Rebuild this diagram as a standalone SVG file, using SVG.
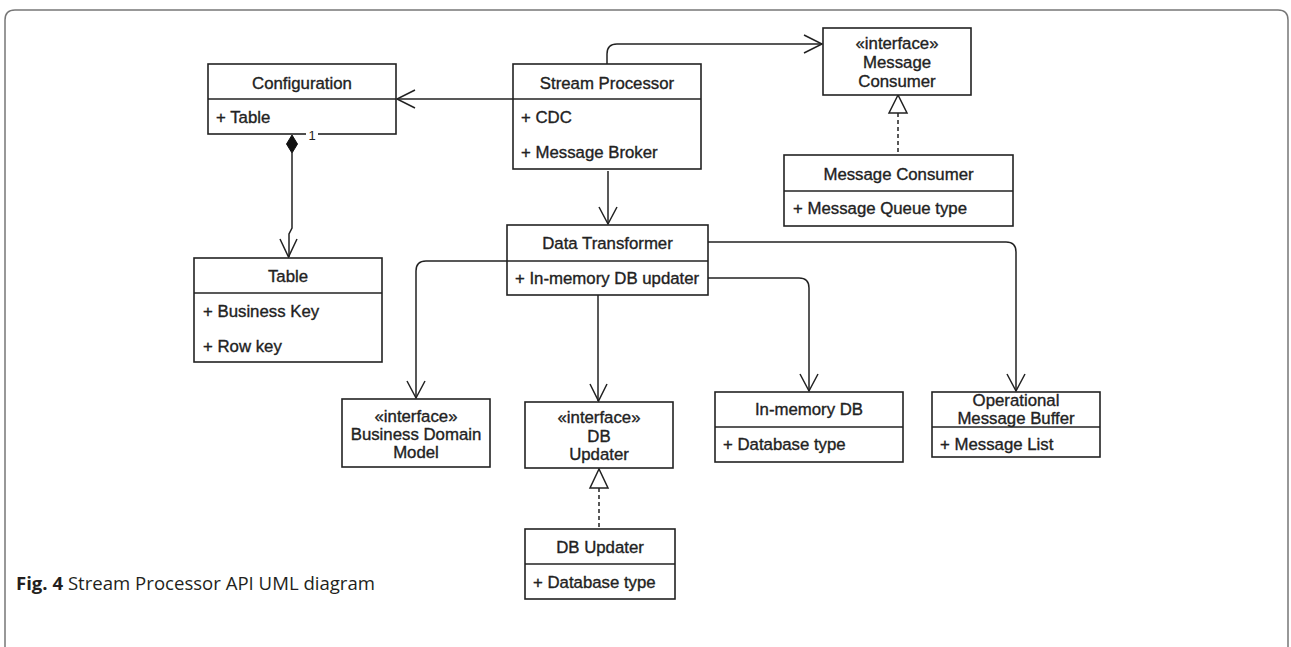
<svg xmlns="http://www.w3.org/2000/svg" width="1291" height="647" viewBox="0 0 1291 647">
<style>
.box{fill:#fff;stroke:#222;stroke-width:1.6}
.div{stroke:#222;stroke-width:1.6}
.t{font-family:"Liberation Sans",Arial,sans-serif;font-size:16.8px;fill:#222;stroke:#222;stroke-width:0.35}
.c{text-anchor:middle}
.ln{fill:none;stroke:#222;stroke-width:1.5}
.dash{fill:none;stroke:#222;stroke-width:1.5;stroke-dasharray:4 3}
.tri{fill:#fff;stroke:#222;stroke-width:1.5}
.cap{font-family:"Open Sans","Liberation Sans",sans-serif;font-size:18px;fill:#231f20}
</style>
<rect width="1291" height="647" fill="#fff"/>
<path d="M5,647 V20 Q5,10 15,10 H1278 Q1288,10 1288,20 V647" fill="none" stroke="#777" stroke-width="1.5"/>

<g id="connectors">
  <path class="ln" d="M513,99 H397"/>
  <path class="ln" d="M415,90 L397,99 L415,108"/>
  <path class="ln" d="M607,64 V54 Q607,44 617,44 H822"/>
  <path class="ln" d="M804,35 L822,44 L804,53"/>
  <path class="ln" d="M608,171 V224"/>
  <path class="ln" d="M599,207 L608,224 L617,207"/>
  <path class="ln" d="M292,153 V228 L289,234 V257"/>
  <path class="ln" d="M280,239 L288.5,257 L297,239"/>
  <path class="ln" d="M507,261 H426 Q416,261 416,271 V398"/>
  <path class="ln" d="M407,381 L416,398 L425,381"/>
  <path class="ln" d="M598,295 V401"/>
  <path class="ln" d="M590,384 L598.5,401 L607,384"/>
  <path class="ln" d="M708,278 H799 Q809,278 809,288 V391"/>
  <path class="ln" d="M800,374 L809,391 L818,374"/>
  <path class="ln" d="M708,242 H1006 Q1016,242 1016,252 V391"/>
  <path class="ln" d="M1007,374 L1016,391 L1025,374"/>
  <path class="dash" d="M898,113 V155"/>
  <path class="tri" d="M898,95 L889,113 L907,113 Z"/>
  <path class="dash" d="M599,488 V529"/>
  <path class="tri" d="M599,469 L590,488 L608,488 Z"/>
</g>

<g id="configuration">
  <rect class="box" x="208" y="64" width="188" height="70"/>
  <line class="div" x1="208" y1="99" x2="396" y2="99"/>
  <text class="t c" x="302" y="89">Configuration</text>
  <text class="t" x="216" y="123">+ Table</text>
  <path d="M292,135 L297.5,144 L292,153 L286.5,144 Z" fill="#111" stroke="#111" stroke-width="1"/>
  <rect x="306" y="128" width="12" height="13" fill="#fff"/>
  <text x="312" y="140" text-anchor="middle" font-family="Liberation Sans, Arial, sans-serif" font-size="13" fill="#222">1</text>
</g>

<g id="stream-processor">
  <rect class="box" x="513" y="64" width="188" height="105"/>
  <line class="div" x1="513" y1="99" x2="701" y2="99"/>
  <text class="t c" x="607" y="89">Stream Processor</text>
  <text class="t" x="521" y="123">+ CDC</text>
  <text class="t" x="521" y="158">+ Message Broker</text>
</g>

<g id="imessage-consumer">
  <rect class="box" x="823" y="28" width="148" height="67"/>
  <text class="t c" x="897" y="49">«interface»</text>
  <text class="t c" x="897" y="68">Message</text>
  <text class="t c" x="897" y="87">Consumer</text>
</g>

<g id="message-consumer">
  <rect class="box" x="784" y="155" width="229" height="71"/>
  <line class="div" x1="784" y1="191" x2="1013" y2="191"/>
  <text class="t c" x="898.5" y="180">Message Consumer</text>
  <text class="t" x="793" y="214">+ Message Queue type</text>
</g>

<g id="data-transformer">
  <rect class="box" x="507" y="225" width="201" height="70"/>
  <line class="div" x1="507" y1="261" x2="708" y2="261"/>
  <text class="t c" x="607.5" y="249">Data Transformer</text>
  <text class="t" x="515" y="284">+ In-memory DB updater</text>
</g>

<g id="table">
  <rect class="box" x="194" y="258" width="188" height="104"/>
  <line class="div" x1="194" y1="293" x2="382" y2="293"/>
  <text class="t c" x="288" y="282">Table</text>
  <text class="t" x="203" y="317">+ Business Key</text>
  <text class="t" x="203" y="352">+ Row key</text>
</g>

<g id="business-domain-model">
  <rect class="box" x="342" y="399" width="148" height="68"/>
  <text class="t c" x="416" y="422">«interface»</text>
  <text class="t c" x="416" y="440">Business Domain</text>
  <text class="t c" x="416" y="458">Model</text>
</g>

<g id="idb-updater">
  <rect class="box" x="525" y="402" width="148" height="66"/>
  <text class="t c" x="599" y="423">«interface»</text>
  <text class="t c" x="599" y="442">DB</text>
  <text class="t c" x="599" y="460">Updater</text>
</g>

<g id="in-memory-db">
  <rect class="box" x="715" y="392" width="188" height="70"/>
  <line class="div" x1="715" y1="427" x2="903" y2="427"/>
  <text class="t c" x="809" y="415">In-memory DB</text>
  <text class="t" x="723" y="450">+ Database type</text>
</g>

<g id="operational-message-buffer">
  <rect class="box" x="932" y="392" width="168" height="65"/>
  <line class="div" x1="932" y1="427" x2="1100" y2="427"/>
  <text class="t c" x="1016" y="406">Operational</text>
  <text class="t c" x="1016" y="424">Message Buffer</text>
  <text class="t" x="940" y="450">+ Message List</text>
</g>

<g id="db-updater">
  <rect class="box" x="525" y="529" width="150" height="70"/>
  <line class="div" x1="525" y1="564" x2="675" y2="564"/>
  <text class="t c" x="600" y="553">DB Updater</text>
  <text class="t" x="533" y="588">+ Database type</text>
</g>

<g id="caption">
  <text class="cap" x="16" y="590" textLength="359" lengthAdjust="spacingAndGlyphs"><tspan font-weight="bold">Fig. 4</tspan> Stream Processor API UML diagram</text>
</g>
</svg>
